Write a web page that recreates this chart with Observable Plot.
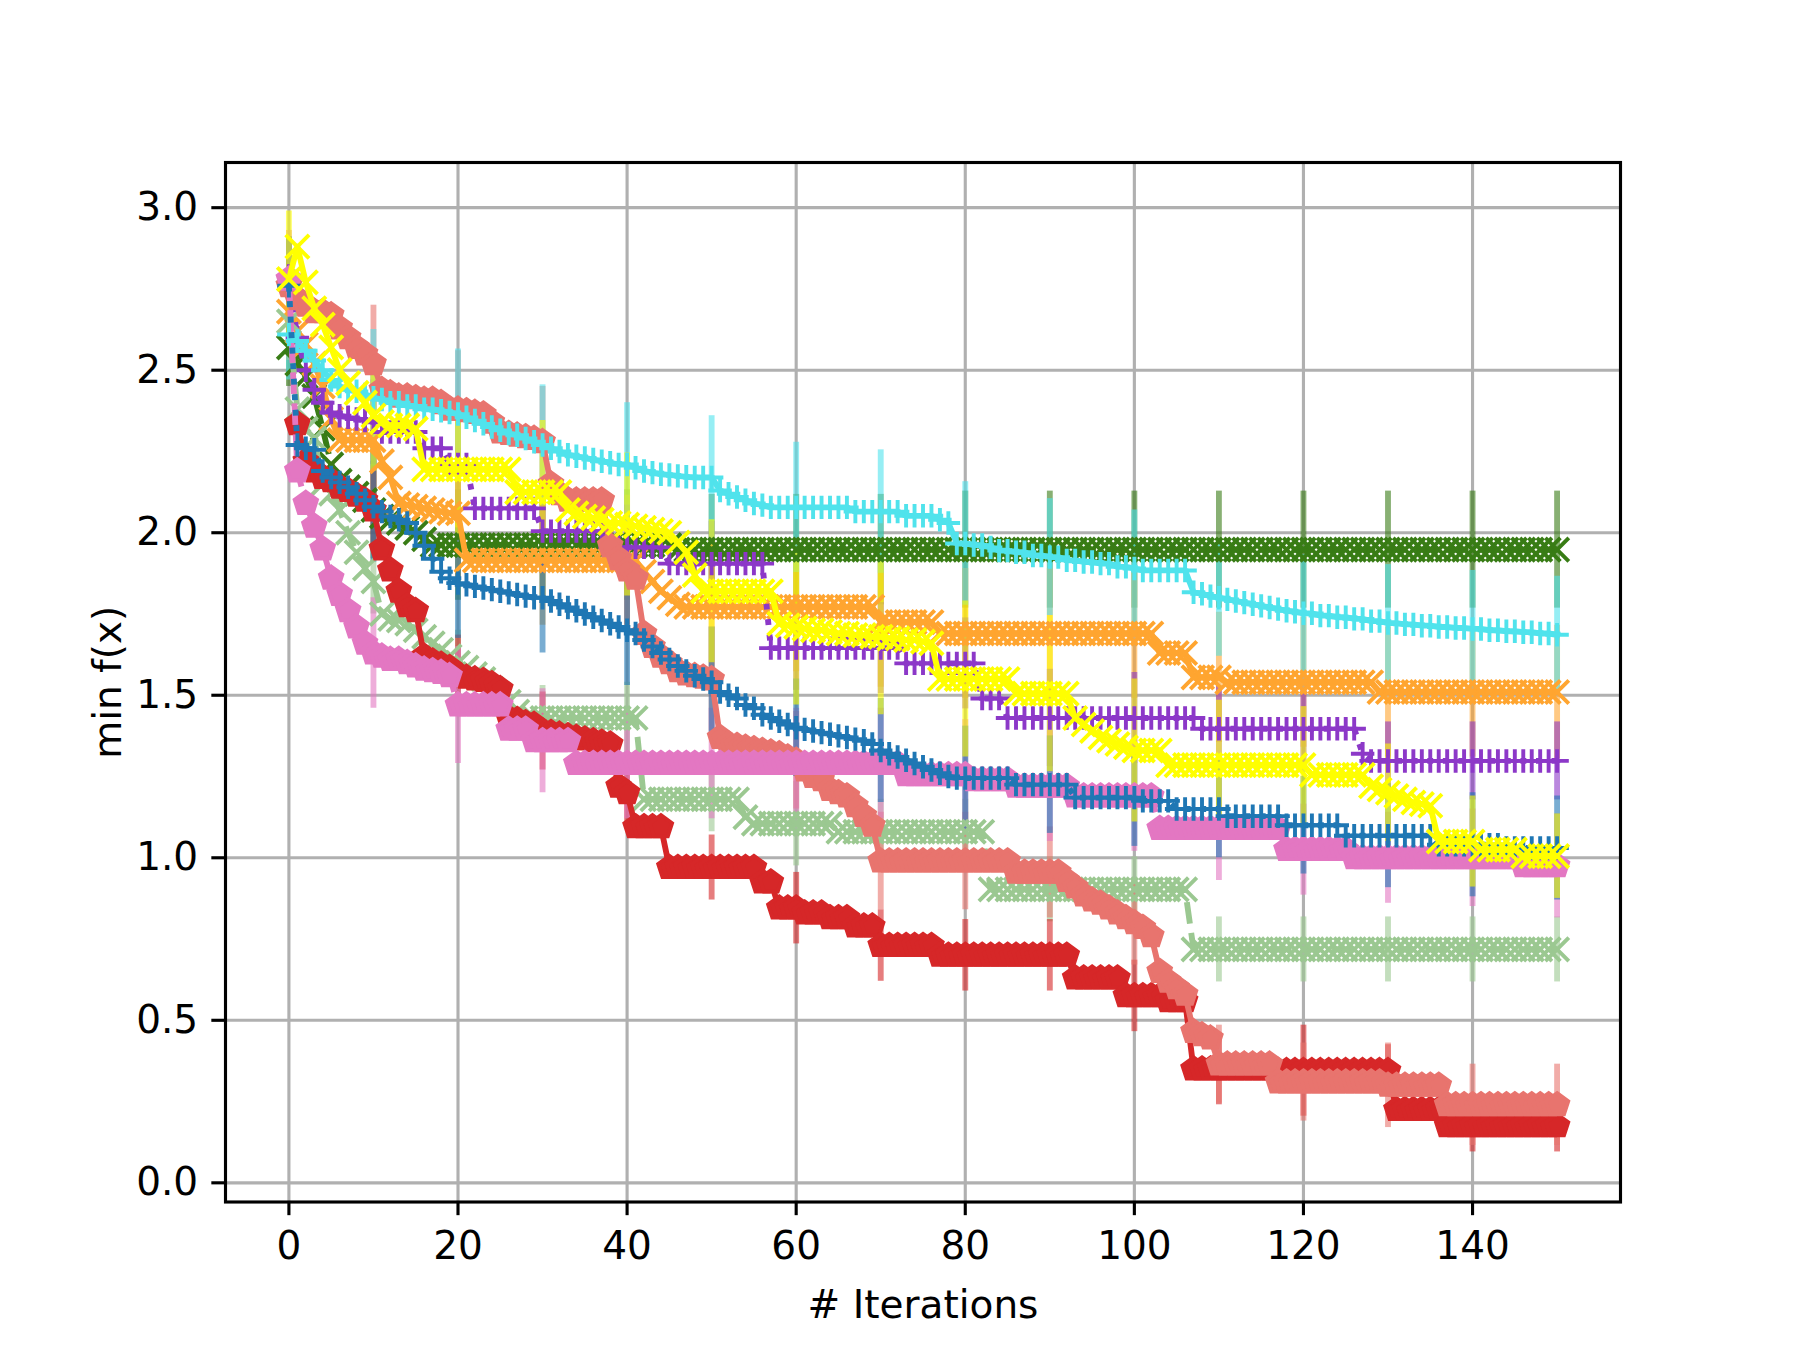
<!DOCTYPE html>
<html>
<head>
<meta charset="utf-8">
<script src="https://cdn.jsdelivr.net/npm/d3@7"></script>
<script src="https://cdn.jsdelivr.net/npm/@observablehq/plot@0.6"></script>
<style>
html, body { margin: 0; padding: 0; background: #ffffff; }
#chart { width: 1800px; height: 1350px; }
</style>
</head>
<body>
<div id="chart"></div>
<script>
// ---------------- data ----------------
const iterations = d3.range(0, 151);
const errorIterations = [0, 10, 20, 30, 40, 50, 60, 70, 80, 90, 100, 110, 120, 130, 140, 150];
const xTicks = [0, 20, 40, 60, 80, 100, 120, 140];
const yTicks = [0, 0.5, 1.0, 1.5, 2.0, 2.5, 3.0];

// Each series: [first iteration, value] — the value holds until the next listed iteration.
const darkGreenSteps = [[0,2.57],[1,2.52],[2,2.48],[3,2.42],[4,2.32],[5,2.21],[6,2.16],[7,2.14],[8,2.12],[9,2.10],[10,2.07],[11,2.05],[12,2.04],[13,2.03],[14,2.015],[15,2.0],[16,1.98],[17,1.962],[46,1.948]];
const darkGreenErr = [0.12,0.15,0.17,0.17,0.17,0.17,0.17,0.17,0.18,0.18,0.18,0.18,0.18,0.18,0.18,0.18];

const orangeSteps = [[0,2.68],[1,2.62],[2,2.58],[3,2.52],[4,2.45],[5,2.35],[6,2.285],[11,2.22],[12,2.17],[13,2.09],[14,2.085],[15,2.08],[16,2.075],[17,2.07],[18,2.065],[19,2.06],[21,1.915],[42,1.88],[43,1.85],[44,1.82],[45,1.80],[46,1.78],[47,1.772],[70,1.725],[77,1.69],[103,1.63],[107,1.555],[111,1.54],[129,1.51]];
const orangeErr = [0.15,0.20,0.20,0.20,0.20,0.20,0.20,0.20,0.20,0.20,0.20,0.20,0.20,0.20,0.20,0.205];

const purpleSteps = [[0,2.79],[1,2.60],[2,2.50],[3,2.44],[4,2.40],[5,2.37],[6,2.36],[7,2.355],[8,2.35],[9,2.345],[10,2.34],[11,2.31],[16,2.26],[19,2.21],[22,2.075],[30,2.005],[38,1.955],[45,1.905],[57,1.645],[73,1.598],[82,1.49],[85,1.43],[108,1.397],[127,1.32],[128,1.298]];
const purpleErr = [0.12,0.13,0.13,0.13,0.13,0.13,0.13,0.14,0.14,0.15,0.14,0.13,0.12,0.12,0.12,0.12];

// the red series shows no point at iteration 0
const redSteps = [[1,2.335],[2,2.22],[3,2.19],[4,2.17],[5,2.16],[6,2.14],[7,2.13],[8,2.115],[9,2.10],[10,2.07],[11,1.95],[12,1.885],[13,1.82],[14,1.775],[15,1.76],[16,1.62],[17,1.605],[18,1.595],[19,1.585],[20,1.565],[21,1.555],[22,1.55],[23,1.545],[24,1.535],[25,1.52],[26,1.43],[27,1.425],[28,1.415],[29,1.41],[30,1.39],[31,1.385],[32,1.38],[33,1.375],[34,1.37],[35,1.365],[36,1.36],[37,1.355],[38,1.35],[39,1.22],[40,1.20],[41,1.095],[45,0.97],[56,0.925],[58,0.845],[61,0.83],[64,0.815],[67,0.79],[70,0.73],[77,0.70],[93,0.63],[99,0.575],[104,0.56],[107,0.35],[117,0.345],[131,0.225],[137,0.175]];
const redErr = [0.10,0.12,0.12,0.12,0.11,0.10,0.11,0.11,0.11,0.11,0.11,0.11,0.14,0.08,0.08,0.08];

const lightGreenSteps = [[0,2.65],[1,2.38],[2,2.32],[3,2.29],[4,2.15],[5,2.12],[6,2.07],[7,2.0],[8,1.94],[9,1.89],[10,1.85],[11,1.75],[12,1.735],[13,1.73],[14,1.72],[15,1.70],[16,1.68],[17,1.66],[18,1.64],[19,1.62],[20,1.60],[21,1.585],[22,1.565],[23,1.55],[24,1.52],[25,1.50],[26,1.48],[27,1.45],[28,1.43],[42,1.18],[54,1.125],[55,1.105],[65,1.08],[83,0.903],[107,0.718]];
const lightGreenErr = [0.10,0.10,0.10,0.10,0.11,0.10,0.13,0.10,0.10,0.10,0.10,0.10,0.10,0.10,0.10,0.10];

const salmonSteps = [[0,2.76],[1,2.72],[2,2.70],[3,2.68],[5,2.67],[6,2.63],[7,2.60],[8,2.57],[9,2.55],[10,2.52],[11,2.44],[12,2.43],[13,2.42],[15,2.415],[16,2.41],[18,2.40],[19,2.38],[21,2.375],[22,2.37],[23,2.365],[24,2.34],[25,2.31],[26,2.305],[27,2.30],[28,2.295],[29,2.29],[30,2.28],[31,2.15],[32,2.12],[33,2.10],[38,1.96],[39,1.92],[40,1.885],[41,1.86],[42,1.69],[43,1.65],[44,1.62],[45,1.60],[46,1.575],[47,1.565],[48,1.56],[49,1.555],[50,1.55],[51,1.37],[52,1.35],[53,1.345],[54,1.34],[55,1.335],[56,1.33],[57,1.325],[58,1.32],[59,1.31],[60,1.30],[61,1.27],[62,1.25],[63,1.24],[64,1.21],[65,1.20],[66,1.19],[67,1.16],[68,1.13],[69,1.10],[70,0.99],[86,0.955],[92,0.93],[93,0.91],[94,0.885],[95,0.87],[96,0.86],[97,0.845],[98,0.83],[99,0.815],[100,0.80],[101,0.785],[102,0.76],[103,0.65],[104,0.62],[105,0.60],[106,0.58],[107,0.465],[108,0.455],[109,0.445],[110,0.365],[117,0.31],[130,0.30],[137,0.24]];
const salmonErr = [0.10,0.18,0.18,0.17,0.17,0.16,0.15,0.15,0.15,0.14,0.13,0.12,0.12,0.13,0.125,0.125];

const pinkSteps = [[0,2.78],[1,2.19],[2,2.09],[3,2.02],[4,1.95],[5,1.86],[6,1.81],[7,1.76],[8,1.71],[9,1.66],[10,1.63],[11,1.62],[12,1.61],[14,1.60],[15,1.59],[16,1.58],[17,1.575],[18,1.57],[19,1.56],[20,1.47],[26,1.395],[29,1.36],[34,1.29],[73,1.255],[81,1.24],[86,1.22],[93,1.19],[103,1.09],[118,1.025],[126,1.0],[146,0.975]];
const pinkErr = [0.15,0.17,0.18,0.16,0.17,0.17,0.17,0.17,0.17,0.17,0.17,0.16,0.14,0.14,0.15,0.16];

const cyanSteps = [[0,2.61],[1,2.59],[2,2.56],[3,2.53],[4,2.50],[5,2.47],[6,2.45],[7,2.44],[8,2.435],[9,2.425],[10,2.415],[11,2.41],[12,2.40],[14,2.39],[16,2.38],[18,2.375],[19,2.37],[20,2.365],[21,2.355],[22,2.345],[23,2.335],[24,2.325],[25,2.315],[26,2.305],[27,2.30],[28,2.29],[29,2.28],[30,2.27],[31,2.26],[32,2.25],[33,2.24],[34,2.235],[35,2.23],[36,2.225],[37,2.22],[38,2.215],[39,2.21],[41,2.20],[42,2.19],[43,2.185],[44,2.18],[45,2.178],[46,2.175],[47,2.172],[48,2.17],[51,2.13],[52,2.12],[53,2.11],[54,2.10],[55,2.09],[56,2.085],[57,2.078],[67,2.065],[73,2.052],[77,2.04],[78,2.03],[79,1.967],[81,1.962],[83,1.955],[84,1.945],[86,1.94],[88,1.93],[90,1.925],[92,1.915],[94,1.91],[96,1.905],[98,1.895],[100,1.89],[101,1.884],[107,1.817],[108,1.812],[109,1.805],[110,1.80],[111,1.795],[112,1.79],[113,1.785],[114,1.78],[115,1.775],[116,1.77],[117,1.765],[118,1.76],[119,1.757],[120,1.752],[122,1.745],[124,1.74],[126,1.735],[128,1.728],[130,1.722],[132,1.718],[134,1.714],[136,1.71],[138,1.707],[140,1.704],[142,1.70],[144,1.697],[146,1.694],[148,1.69],[150,1.686]];
const cyanErr = [0.14,0.21,0.20,0.185,0.19,0.19,0.20,0.19,0.19,0.18,0.18,0.18,0.18,0.18,0.18,0.18];

const blueSteps = [[0,2.76],[1,2.27],[2,2.26],[3,2.255],[4,2.19],[5,2.17],[6,2.155],[7,2.14],[8,2.12],[9,2.10],[10,2.08],[11,2.065],[12,2.05],[13,2.04],[14,2.03],[15,2.0],[16,1.96],[17,1.92],[18,1.88],[19,1.86],[20,1.845],[21,1.84],[22,1.835],[23,1.83],[24,1.825],[25,1.82],[26,1.815],[27,1.81],[28,1.805],[29,1.80],[31,1.79],[32,1.78],[33,1.77],[34,1.76],[35,1.75],[36,1.74],[37,1.73],[38,1.72],[39,1.71],[40,1.70],[41,1.69],[42,1.67],[43,1.65],[44,1.63],[45,1.61],[46,1.59],[47,1.575],[48,1.56],[49,1.55],[50,1.54],[51,1.51],[52,1.50],[53,1.49],[54,1.47],[55,1.46],[56,1.44],[57,1.43],[58,1.42],[59,1.41],[60,1.40],[61,1.395],[62,1.39],[63,1.385],[64,1.38],[65,1.375],[66,1.37],[67,1.365],[68,1.36],[69,1.35],[70,1.33],[71,1.32],[72,1.31],[73,1.30],[74,1.29],[75,1.28],[76,1.27],[77,1.26],[78,1.25],[79,1.245],[86,1.225],[93,1.185],[101,1.175],[105,1.15],[111,1.128],[118,1.10],[125,1.068],[136,1.04],[144,1.03]];
const blueErr = [0.15,0.17,0.17,0.17,0.17,0.17,0.15,0.16,0.16,0.15,0.15,0.15,0.15,0.16,0.16,0.16];

const yellowSteps = [[0,2.78],[1,2.88],[2,2.77],[3,2.69],[4,2.64],[5,2.57],[6,2.50],[7,2.46],[8,2.43],[9,2.40],[10,2.36],[11,2.34],[12,2.33],[15,2.32],[16,2.195],[27,2.125],[33,2.07],[34,2.06],[35,2.05],[36,2.045],[37,2.04],[38,2.03],[40,2.025],[41,2.02],[42,2.015],[43,2.01],[44,2.005],[45,2.0],[46,1.97],[47,1.94],[48,1.87],[49,1.82],[58,1.72],[59,1.715],[60,1.71],[61,1.705],[62,1.70],[64,1.695],[65,1.69],[67,1.685],[69,1.68],[71,1.675],[73,1.67],[75,1.665],[76,1.66],[77,1.55],[86,1.505],[93,1.43],[94,1.41],[95,1.39],[96,1.37],[97,1.36],[98,1.35],[99,1.34],[100,1.33],[104,1.285],[121,1.255],[128,1.22],[129,1.21],[130,1.20],[131,1.19],[132,1.18],[133,1.17],[134,1.165],[135,1.16],[136,1.05],[141,1.025],[146,1.005]];
const yellowErr = [0.21,0.17,0.20,0.22,0.22,0.22,0.24,0.24,0.24,0.24,0.22,0.20,0.18,0.15,0.14,0.13];

// ---------------- styling (separate from data) ----------------
const PX = 281.25 / 72;            // one point in pixels at this figure's dpi
const LW = 1.5 * PX;               // line width
const MEW = 1.0 * PX;              // marker edge width
const MR = 3.0 * PX;               // marker half size

function plusSymbol(r) {
  return { draw(ctx) { ctx.moveTo(-r, 0); ctx.lineTo(r, 0); ctx.moveTo(0, -r); ctx.lineTo(0, r); } };
}
function timesSymbol(r) {
  return { draw(ctx) { ctx.moveTo(-r, -r); ctx.lineTo(r, r); ctx.moveTo(-r, r); ctx.lineTo(r, -r); } };
}
function pentagonSymbol(r) {
  return { draw(ctx) {
    for (let k = 0; k < 5; k++) {
      const a = -Math.PI / 2 + k * 2 * Math.PI / 5;
      const px = r * Math.cos(a), py = r * Math.sin(a);
      if (k === 0) ctx.moveTo(px, py); else ctx.lineTo(px, py);
    }
    ctx.closePath();
  } };
}

const dashed = [3.7 * LW, 1.6 * LW].join(",");
const dotted = [1.0 * LW, 1.65 * LW].join(",");

// drawing order (later on top)
const series = [
  { steps: darkGreenSteps, err: darkGreenErr, color: "#387c15", marker: "x", dash: dashed },
  { steps: orangeSteps,    err: orangeErr,    color: "#ffa530", marker: "x", dash: null },
  { steps: purpleSteps,    err: purpleErr,    color: "#8c38c8", marker: "+", dash: dotted },
  { steps: lightGreenSteps,err: lightGreenErr,color: "#9bc891", marker: "x", dash: dashed },
  { steps: redSteps,       err: redErr,       color: "#d62728", marker: "p", dash: null },
  { steps: salmonSteps,    err: salmonErr,    color: "#e8746e", marker: "p", dash: null },
  { steps: pinkSteps,      err: pinkErr,      color: "#e377c2", marker: "p", dash: dashed },
  { steps: cyanSteps,      err: cyanErr,      color: "#50e3ec", marker: "+", dash: null },
  { steps: blueSteps,      err: blueErr,      color: "#1f77b4", marker: "+", dash: dotted },
  { steps: yellowSteps,    err: yellowErr,    color: "#ffff00", marker: "x", dash: null }
];

function expand(steps) {
  const out = [];
  let k = 0;
  for (const i of iterations) {
    if (i < steps[0][0]) continue;
    while (k + 1 < steps.length && steps[k + 1][0] <= i) k++;
    out.push({ i, v: steps[k][1] });
  }
  return out;
}

const errMarks = [];
const lineMarks = [];
for (const s of series) {
  const pts = expand(s.steps);
  const byIter = new Map(pts.map(p => [p.i, p.v]));
  const errRows = errorIterations
    .map((it, j) => byIter.has(it) ? { i: it, lo: byIter.get(it) - s.err[j], hi: byIter.get(it) + s.err[j] } : null)
    .filter(d => d);
  errMarks.push(Plot.ruleX(errRows, { x: "i", y1: "lo", y2: "hi", stroke: s.color, strokeOpacity: 0.6, strokeWidth: LW }));
  lineMarks.push(Plot.line(pts, {
    x: "i", y: "v", stroke: s.color, strokeWidth: LW,
    strokeDasharray: s.dash || undefined,
    strokeLinecap: s.dash ? "butt" : "square", strokeLinejoin: "round"
  }));
  if (s.marker === "p") {
    lineMarks.push(Plot.dot(pts, { x: "i", y: "v", symbol: pentagonSymbol(MR), fill: s.color, stroke: s.color, strokeWidth: MEW, strokeLinejoin: "miter" }));
  } else {
    const sym = s.marker === "+" ? plusSymbol(MR) : timesSymbol(MR);
    lineMarks.push(Plot.dot(pts, { x: "i", y: "v", symbol: sym, fill: "none", stroke: s.color, strokeWidth: MEW, strokeLinecap: "butt" }));
  }
}

const chart = Plot.plot({
  width: 1800,
  height: 1350,
  marginLeft: 225,
  marginRight: 180,
  marginTop: 162,
  marginBottom: 148.5,
  style: { background: "#ffffff", color: "#000000", fontFamily: "DejaVu Sans", fontSize: "39px" },
  x: { domain: [-7.5, 157.5] },
  y: { domain: [-0.059, 3.139] },
  marks: [
    Plot.gridX(xTicks, { stroke: "#b0b0b0", strokeOpacity: 1, strokeWidth: 0.8 * PX }),
    Plot.gridY(yTicks, { stroke: "#b0b0b0", strokeOpacity: 1, strokeWidth: 0.8 * PX }),
    ...errMarks,
    ...lineMarks,
    Plot.frame({ stroke: "#000000", strokeWidth: 0.8 * PX }),
    Plot.axisX(xTicks, { tickSize: 3.5 * PX, tickPadding: 3.5 * PX + 2, strokeWidth: 0.8 * PX, fontSize: 39, label: null, tickFormat: d => String(d) }),
    Plot.axisY(yTicks, { tickSize: 3.5 * PX, tickPadding: 3.5 * PX, strokeWidth: 0.8 * PX, fontSize: 39, label: null, tickFormat: d3.format(".1f") }),
    Plot.text(["# Iterations"], { frameAnchor: "bottom", dy: 104, text: d => d, fontSize: 39, textAnchor: "middle", lineAnchor: "middle", fill: "#000000" }),
    Plot.text(["min f(x)"], { frameAnchor: "left", dx: -117, rotate: -90, text: d => d, fontSize: 39, textAnchor: "middle", lineAnchor: "middle", fill: "#000000" })
  ]
});
document.getElementById("chart").appendChild(chart);
</script>
</body>
</html>
